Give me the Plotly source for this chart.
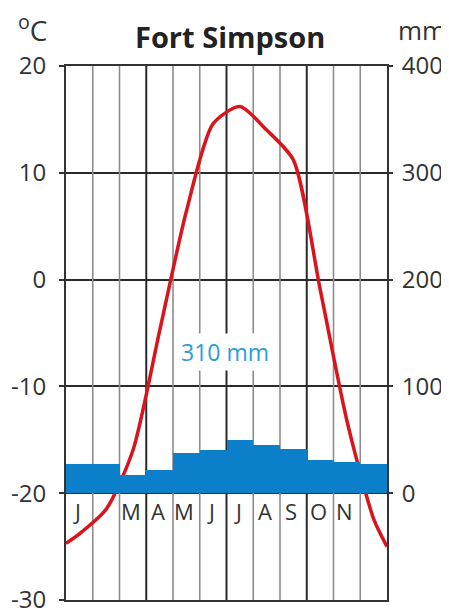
import plotly.graph_objects as go

# ---- data ----
month_labels = ["J", "", "M", "A", "M", "J", "J", "A", "S", "O", "N", ""]
month_pos = [1, 2, 3, 4, 5, 6, 7, 8, 9, 10, 11, 12]
precip_mm = [27, 27, 17.5, 22, 37.5, 40, 49.5, 45, 41, 31.5, 29.5, 27]
temp_x = [0.5, 1, 2, 3, 4, 5, 6, 7, 8, 9, 10, 11, 12, 12.5]
temp_c = [-24.7, -23.8, -21.5, -16, -4.8, 6.4, 14.6, 16.2, 14.0, 11.2, -0.9, -13.2, -22.4, -25]
temp_ticks = [-30, -20, -10, 0, 10, 20]
temp_tick_text = ["-30", "-20", "-10", "0", "10", "20"]
precip_ticks = [0, 100, 200, 300, 400]
total_label = "310 mm"
station = "Fort Simpson"

FONT = "Open Sans"
TXT = "#333333"

# month boundaries for vertical grid
bounds = [m + 0.5 for m in month_pos[:-1]]
quarter = [3.5, 6.5, 9.5]

def vlines(xs):
    xx, yy = [], []
    for b in xs:
        xx += [b, b, None]
        yy += [temp_ticks[0], temp_ticks[-1], None]
    return xx, yy

thin_x, thin_y = vlines([b for b in bounds if b not in quarter])
dark_x, dark_y = vlines(quarter)

fig = go.Figure()
fig.add_trace(go.Bar(x=month_pos, y=precip_mm, yaxis="y2", width=1,
                     marker=dict(color="#0b7fc9", line=dict(width=0)),
                     showlegend=False, hoverinfo="skip"))
fig.add_trace(go.Scatter(x=thin_x, y=thin_y, mode="lines",
                         line=dict(color="#8c8c8c", width=1.6),
                         showlegend=False, hoverinfo="skip"))
fig.add_trace(go.Scatter(x=dark_x, y=dark_y, mode="lines",
                         line=dict(color="#2a2a2a", width=2),
                         showlegend=False, hoverinfo="skip"))
fig.add_trace(go.Scatter(x=temp_x, y=temp_c, mode="lines",
                         line=dict(color="#d9141c", width=3.5, shape="spline", smoothing=0.7),
                         showlegend=False, hoverinfo="skip"))

annotations = []
for x, lab in zip(month_pos, month_labels):
    if lab:
        annotations.append(dict(x=x, y=-21.7, xref="x", yref="y", text=lab,
                                showarrow=False, xshift=-2, xanchor="center", yanchor="middle",
                                font=dict(family=FONT, size=22, color=TXT)))
annotations.append(dict(x=6.44, y=-6.8, xref="x", yref="y", text=total_label,
                        showarrow=False, bgcolor="white", borderpad=2,
                        xanchor="center", yanchor="middle",
                        font=dict(family=FONT, size=23, color="#2a9fd6")))
annotations.append(dict(x=0.511, y=1.056, xref="paper", yref="paper", text="<b>" + station + "</b>",
                        showarrow=False, xanchor="center", yanchor="middle",
                        font=dict(family=FONT, size=29, color="#222222")))
annotations.append(dict(x=-0.103, y=1.07, xref="paper", yref="paper", text="<sup>o</sup>C",
                        showarrow=False, xanchor="center", yanchor="middle",
                        font=dict(family=FONT, size=28, color=TXT)))
annotations.append(dict(x=1.109, y=1.068, xref="paper", yref="paper", text="mm",
                        showarrow=False, xanchor="center", yanchor="middle",
                        font=dict(family=FONT, size=26, color=TXT)))

# page has an 8px body margin, so the figure is offset by (8, 8)
fig.update_layout(
    width=449, height=610, autosize=False,
    margin=dict(l=58, r=70, t=58, b=18, autoexpand=False),
    paper_bgcolor="white", plot_bgcolor="white",
    bargap=0,
    xaxis=dict(range=[0.5, 12.5], showgrid=False, showticklabels=False, zeroline=False,
               showline=True, mirror=True, linecolor="#333333", linewidth=2, ticks="",
               automargin=False),
    yaxis=dict(range=[temp_ticks[0], temp_ticks[-1]], tickvals=temp_ticks, ticktext=temp_tick_text,
               showgrid=True, gridcolor="#2a2a2a", gridwidth=2, zeroline=False,
               showline=True, mirror=True, linecolor="#333333", linewidth=2,
               ticks="outside", ticklen=5, tickwidth=1.5, tickcolor="#333333",
               ticklabelstandoff=8, automargin=False,
               tickfont=dict(family=FONT, size=24, color=TXT)),
    yaxis2=dict(range=[-100, 400], tickvals=precip_ticks, overlaying="y", side="right",
                showgrid=False, zeroline=False, showline=False,
                ticks="outside", ticklen=5, tickwidth=1.5, tickcolor="#333333",
                ticklabelstandoff=4, automargin=False,
                tickfont=dict(family=FONT, size=24, color=TXT)),
    annotations=annotations,
)

fig.write_html("out.html")
